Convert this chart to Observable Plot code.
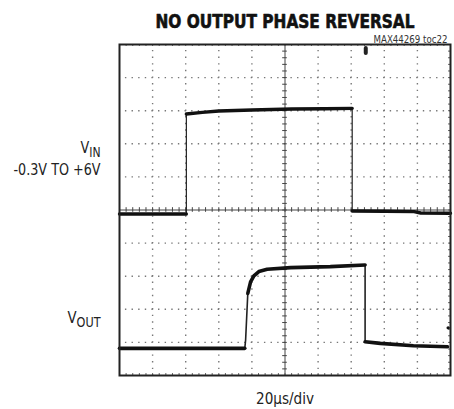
<!DOCTYPE html>
<html>
<head>
<meta charset="utf-8">
<script src="https://cdn.jsdelivr.net/npm/d3@7"></script>
<script src="https://cdn.jsdelivr.net/npm/@observablehq/plot@0.6"></script>
<style>
  html, body { margin: 0; padding: 0; background: #fff; }
  #chart svg { display: block; }
</style>
</head>
<body>
<div id="chart"></div>
<script>
// ---- text ----
const titleText = "NO OUTPUT PHASE REVERSAL";
const noteText = "MAX44269 toc22";
const captionText = "20\u00B5s/div";
const sideLabels = [
  {main: "V", sub: "IN", level: 1.72},
  {main: "-0.3V TO +6V", sub: "", level: 1.06},
  {main: "V", sub: "OUT", level: -3.41}
];

// ---- scope grid (divisions) ----
const gridT = [1, 2, 3, 4, 6, 7, 8, 9];
const gridV = [-4, -3, -2, -1, 1, 2, 3, 4];
const centerT = [5];
const centerV = [0];

// ---- traces (time in divisions, level in divisions) ----
const vinT = [0, 2.02, 2.02, 2.5, 3.0, 4.0, 5.2, 6.2, 7.03, 7.03, 8.0, 8.9, 9.1, 10.0];
const vinV = [-0.12, -0.12, 2.90, 2.95, 2.99, 3.02, 3.05, 3.06, 3.07, -0.03, -0.04, -0.05, -0.09, -0.10];

const voutT = [0, 3.785, 3.81, 3.876, 3.96, 4.06, 4.21, 4.46, 5.17, 6.37, 7.42, 7.42, 7.88, 8.88, 9.91];
const voutV = [-4.18, -4.18, -3.93, -2.52, -2.17, -1.99, -1.86, -1.79, -1.74, -1.71, -1.66, -3.98, -4.03, -4.10, -4.13];

// ---- scope markers ----
const triggerMarker = [{t: 7.44, v1: 4.73, v2: 4.88}];
const groundMarker = [{t: 9.93, v: -3.56}];

// split traces into slow segments (drawn thick) vs fast edges (drawn thin)
function table(T, V) {
  const rows = T.map((t, i) => ({t, v: V[i], seg: 0}));
  let s = 0;
  for (let i = 1; i < rows.length; i++) {
    const dt = rows[i].t - rows[i - 1].t;
    const dv = Math.abs(rows[i].v - rows[i - 1].v);
    if (dt === 0 || dv / dt > 8) s++;
    rows[i].seg = s;
  }
  return rows;
}
function slowParts(rows) {
  const count = d3.rollup(rows, g => g.length, d => d.seg);
  return rows.filter(d => count.get(d.seg) > 1);
}
const vin = table(vinT, vinV);
const vout = table(voutT, voutV);

const ticksT = d3.range(0, 50.5, 1).map(k => k / 5);
const ticksV = d3.range(-25, 25.5, 1).map(k => k / 5);

const font = "'Liberation Sans Narrow', 'DejaVu Sans Condensed', 'Roboto', sans-serif";

const plot = Plot.plot({
  width: 454,
  height: 409,
  marginLeft: 119,
  marginRight: 4,
  marginTop: 44,
  marginBottom: 34,
  x: {domain: [0, 10], axis: null},
  y: {domain: [-5, 5], axis: null},
  style: {fontFamily: font, background: "#fff", overflow: "visible"},
  marks: [
    // dotted graticule
    Plot.ruleY(gridV, {stroke: "#777", strokeWidth: 1.4, strokeDasharray: "1.4 5.22", strokeDashoffset: 0.7}),
    Plot.ruleX(gridT, {stroke: "#777", strokeWidth: 1.4, strokeDasharray: "1.4 5.22", strokeDashoffset: 0.7}),
    // center axes with minor ticks
    Plot.ruleY(centerV, {stroke: "#444", strokeWidth: 1}),
    Plot.ruleX(centerT, {stroke: "#444", strokeWidth: 1}),
    Plot.ruleX(ticksT, {y1: -0.07, y2: 0.07, stroke: "#444", strokeWidth: 1}),
    Plot.ruleY(ticksV, {x1: 4.93, x2: 5.07, stroke: "#444", strokeWidth: 1}),
    // minor ticks on frame edges
    Plot.ruleX(ticksT, {y1: -5, y2: -4.94, stroke: "#666", strokeWidth: 1}),
    Plot.ruleX(ticksT, {y1: 4.94, y2: 5, stroke: "#666", strokeWidth: 1}),
    Plot.ruleY(ticksV, {x1: 9.94, x2: 10, stroke: "#666", strokeWidth: 1}),
    // traces: thin full path, thick slow parts
    Plot.line(vin, {x: "t", y: "v", stroke: "#222", strokeWidth: 1.2}),
    Plot.line(slowParts(vin), {x: "t", y: "v", z: "seg", stroke: "#111", strokeWidth: 3.4}),
    Plot.line(vout, {x: "t", y: "v", stroke: "#222", strokeWidth: 1.6}),
    Plot.line(slowParts(vout), {x: "t", y: "v", z: "seg", stroke: "#111", strokeWidth: 3.6}),
    // markers
    Plot.ruleX(triggerMarker, {x: "t", y1: "v1", y2: "v2", stroke: "#222", strokeWidth: 4, strokeLinecap: "round"}),
    Plot.dot(groundMarker, {x: "t", y: "v", r: 1.7, fill: "#111", stroke: "none"}),
    Plot.frame({stroke: "#222", strokeWidth: 2}),
    // text
    Plot.text([titleText], {frameAnchor: "top", lineAnchor: "bottom", dy: -17, fontSize: 19, fontWeight: "bold", fill: "#111", stroke: "#111", strokeWidth: 0.6}),
    Plot.text([noteText], {frameAnchor: "top-right", textAnchor: "end", lineAnchor: "bottom", dx: -3, dy: -1.5, fontSize: 10, fill: "#333"}),
    Plot.text([captionText], {frameAnchor: "bottom", lineAnchor: "bottom", dy: 28, fontSize: 16, fill: "#222"}),
    Plot.text(sideLabels, {y: "level", text: d => d.main + d.sub, frameAnchor: "left", textAnchor: "end", lineAnchor: "bottom", dx: -19, fontSize: 16.5, fill: "#222"})
  ]
});

// render subscripts (V_IN, V_OUT) as tspans
const subMap = new Map(sideLabels.filter(d => d.sub).map(d => [d.main + d.sub, d]));
d3.select(plot).selectAll("text").each(function() {
  const d = subMap.get(this.textContent);
  if (!d) return;
  const el = d3.select(this);
  el.text(null);
  el.append("tspan").text(d.main);
  el.append("tspan").attr("font-size", 14).attr("dy", "0.3em").text(d.sub);
});

// condense text to the narrow typeface widths of the original
const textWidths = new Map([
  [titleText, 259],
  [noteText, 74],
  [captionText, 58],
  ["-0.3V TO +6V", 87],
  ["VIN", 20],
  ["VOUT", 33]
]);
d3.select(plot).selectAll("text").each(function() {
  const w = textWidths.get(this.textContent);
  if (w) d3.select(this).attr("textLength", w).attr("lengthAdjust", "spacingAndGlyphs");
});

document.getElementById("chart").appendChild(plot);
</script>
</body>
</html>
